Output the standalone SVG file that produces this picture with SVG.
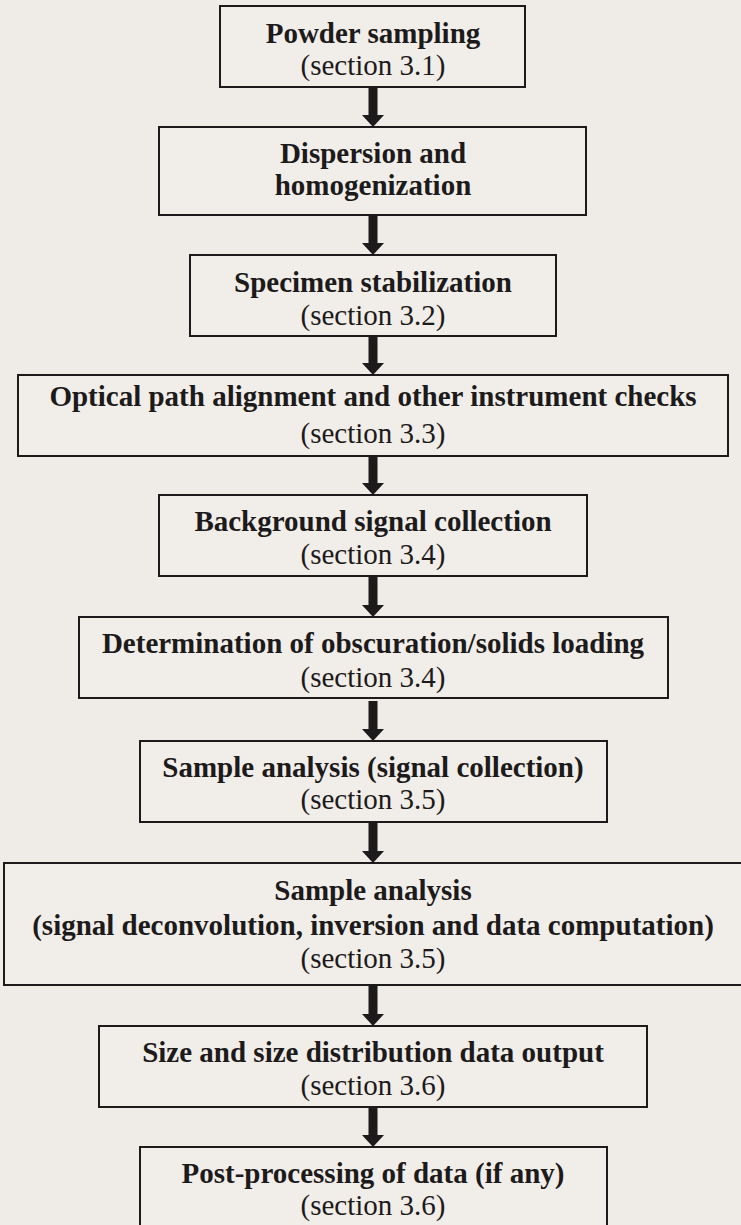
<svg xmlns="http://www.w3.org/2000/svg" width="741" height="1225" viewBox="0 0 741 1225">
  <defs>
    <style>
      .box { fill: #f1ede9; stroke: #1c1a1a; stroke-width: 2; }
      .title { font-family: "Liberation Serif", "Times New Roman", serif; font-weight: bold; font-size: 29px; fill: #1c1a1a; text-anchor: middle; }
      .ref { font-family: "Liberation Serif", "Times New Roman", serif; font-size: 29px; fill: #1c1a1a; text-anchor: middle; }
      .arrow { fill: #1c1a1a; }
    </style>
    <!-- down arrow: shaft plus head, tip at origin -->
    <path id="down" d="M-4.5,-40 H4.5 V-12 H11 L0,0 L-11,-12 H-4.5 Z"/>
  </defs>

  <rect width="741" height="1225" fill="#efebe7"/>

  <!-- connectors -->
  <g id="connectors" class="arrow">
    <use href="#down" x="373" y="127"/>
    <use href="#down" x="373" y="255"/>
    <use href="#down" x="373" y="375"/>
    <use href="#down" x="373" y="495"/>
    <use href="#down" x="373" y="617"/>
    <use href="#down" x="373" y="741"/>
    <use href="#down" x="373" y="863"/>
    <use href="#down" x="373" y="1026"/>
    <use href="#down" x="373" y="1147"/>
  </g>

  <g id="powder-sampling">
    <rect class="box" x="220" y="6" width="305" height="81"/>
    <text class="title" x="373" y="43">Powder sampling</text>
    <text class="ref" x="373" y="75">(section 3.1)</text>
  </g>

  <g id="dispersion">
    <rect class="box" x="159" y="127" width="427" height="88"/>
    <text class="title" x="373" y="163">Dispersion and</text>
    <text class="title" x="373" y="195">homogenization</text>
  </g>

  <g id="stabilization">
    <rect class="box" x="190" y="255" width="366" height="81"/>
    <text class="title" x="373" y="292">Specimen stabilization</text>
    <text class="ref" x="373" y="325">(section 3.2)</text>
  </g>

  <g id="alignment">
    <rect class="box" x="18" y="375" width="710" height="81"/>
    <text class="title" x="373" y="406">Optical path alignment and other instrument checks</text>
    <text class="ref" x="373" y="443">(section 3.3)</text>
  </g>

  <g id="background">
    <rect class="box" x="159" y="495" width="428" height="81"/>
    <text class="title" x="373" y="531">Background signal collection</text>
    <text class="ref" x="373" y="564">(section 3.4)</text>
  </g>

  <g id="obscuration">
    <rect class="box" x="79" y="617" width="589" height="81"/>
    <text class="title" x="373" y="653">Determination of obscuration/solids loading</text>
    <text class="ref" x="373" y="687">(section 3.4)</text>
  </g>

  <g id="signal-collection">
    <rect class="box" x="140" y="741" width="467" height="81"/>
    <text class="title" x="373" y="777">Sample analysis (signal collection)</text>
    <text class="ref" x="373" y="809">(section 3.5)</text>
  </g>

  <g id="deconvolution">
    <rect class="box" x="4" y="863" width="745" height="122"/>
    <text class="title" x="373" y="900">Sample analysis</text>
    <text class="title" x="373" y="935">(signal deconvolution, inversion and data computation)</text>
    <text class="ref" x="373" y="968">(section 3.5)</text>
  </g>

  <g id="data-output">
    <rect class="box" x="99" y="1026" width="548" height="81"/>
    <text class="title" x="373" y="1062">Size and size distribution data output</text>
    <text class="ref" x="373" y="1095">(section 3.6)</text>
  </g>

  <g id="post-processing">
    <rect class="box" x="140" y="1147" width="467" height="90"/>
    <text class="title" x="373" y="1183">Post-processing of data (if any)</text>
    <text class="ref" x="373" y="1215">(section 3.6)</text>
  </g>
</svg>
